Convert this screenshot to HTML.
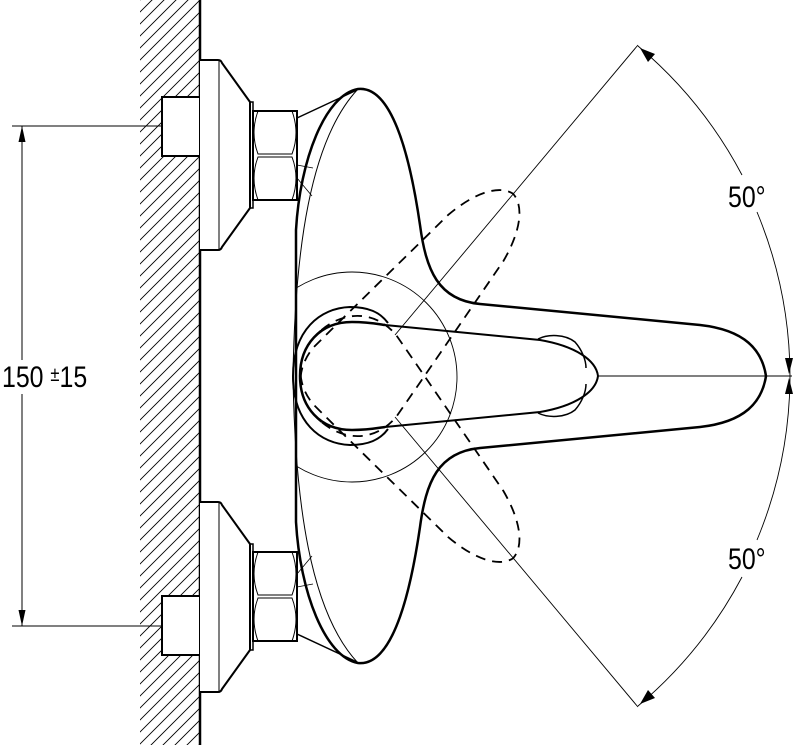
<!DOCTYPE html>
<html><head><meta charset="utf-8"><style>
html,body{margin:0;padding:0;background:#fff;width:799px;height:749px;overflow:hidden;}
svg{display:block;}
text{font-family:"Liberation Sans",Arial,sans-serif;fill:#000;}
</style></head><body>
<svg width="799" height="749" viewBox="0 0 799 749" xmlns="http://www.w3.org/2000/svg">
<defs>
<clipPath id="wc"><rect x="140" y="0" width="60" height="745"/></clipPath>
<clipPath id="cc"><rect x="297" y="0" width="500" height="749"/></clipPath>
<g id="half">
  <rect x="162" y="97" width="38" height="59" fill="#fff" stroke="#000" stroke-width="2"/>
  <path d="M200,60 L218,60 Q221,60 222,63 L250,102 L250,208 L222,247 Q221,250 218,250 L200,250" fill="#fff" stroke="#000" stroke-width="2"/>
  <line x1="219" y1="61" x2="219" y2="249" stroke="#000" stroke-width="1"/>
  <rect x="250" y="102" width="3" height="106" fill="none" stroke="#000" stroke-width="1.5"/>
  <rect x="253" y="111" width="44" height="89" fill="#fff" stroke="#000" stroke-width="2"/>
  <path d="M258,111 Q250,133 258,154 L292,154 Q300,133 292,111" fill="none" stroke="#000" stroke-width="1"/>
  <path d="M258,200 Q250,178 258,157 L292,157 Q300,178 292,200" fill="none" stroke="#000" stroke-width="1"/>
  <line x1="297" y1="118" x2="357" y2="90" stroke="#000" stroke-width="1.5"/>
  <path d="M297,165 L313,168 M297,178 L312,196" stroke="#000" stroke-width="0.8" fill="none"/>
  <path d="M296,376 L296,230 C300,160 325,95 358,89 C395,85 412,170 420,225 C426,270 438,300 480,304 L700,325 C745,330 762,350 766,376" fill="none" stroke="#000" stroke-width="2.5"/>
  <path d="M293,376 C295,250 310,140 358,89" fill="none" stroke="#000" stroke-width="1"/>
  <path d="M293,376 C293,330 320,308 350,307 C368,307 380,312 388,323" fill="none" stroke="#000" stroke-width="2"/>
  <path d="M300,376 C300,345 320,322 352,322 C368,322 378,324 385,325" fill="none" stroke="#000" stroke-width="2.5"/>
  <path d="M385,325 L540,340 C575,346 596,360 598,376" fill="none" stroke="#000" stroke-width="2"/>
  <path d="M538,339 C548,334 565,334 575,342 C582,350 586,360 586,368" fill="none" stroke="#000" stroke-width="1.5"/>
</g>
<g id="lever">
  <path d="M300,376 C300,345 320,322 352,322 L385,325 L540,340 C575,346 596,360 598,376 C596,392 575,406 540,412 L385,427 L352,430 C320,430 300,407 300,376 Z" fill="none" stroke="#000" stroke-width="1.8" stroke-dasharray="10,7"/>
</g>
</defs>
<g clip-path="url(#wc)" stroke="#000" stroke-width="0.9">
<path d="M130,10 L210,-70 M130,22 L210,-58 M130,34 L210,-46 M130,46 L210,-34 M130,58 L210,-22 M130,70 L210,-10 M130,82 L210,2 M130,94 L210,14 M130,106 L210,26 M130,118 L210,38 M130,130 L210,50 M130,142 L210,62 M130,154 L210,74 M130,166 L210,86 M130,178 L210,98 M130,190 L210,110 M130,202 L210,122 M130,214 L210,134 M130,226 L210,146 M130,238 L210,158 M130,250 L210,170 M130,262 L210,182 M130,274 L210,194 M130,286 L210,206 M130,298 L210,218 M130,310 L210,230 M130,322 L210,242 M130,334 L210,254 M130,346 L210,266 M130,358 L210,278 M130,370 L210,290 M130,382 L210,302 M130,394 L210,314 M130,406 L210,326 M130,418 L210,338 M130,430 L210,350 M130,442 L210,362 M130,454 L210,374 M130,466 L210,386 M130,478 L210,398 M130,490 L210,410 M130,502 L210,422 M130,514 L210,434 M130,526 L210,446 M130,538 L210,458 M130,550 L210,470 M130,562 L210,482 M130,574 L210,494 M130,586 L210,506 M130,598 L210,518 M130,610 L210,530 M130,622 L210,542 M130,634 L210,554 M130,646 L210,566 M130,658 L210,578 M130,670 L210,590 M130,682 L210,602 M130,694 L210,614 M130,706 L210,626 M130,718 L210,638 M130,730 L210,650 M130,742 L210,662 M130,754 L210,674 M130,766 L210,686 M130,778 L210,698 M130,790 L210,710 M130,802 L210,722 M130,814 L210,734 M130,826 L210,746"/>
</g>
<line x1="200" y1="0" x2="200" y2="745" stroke="#000" stroke-width="2.5"/>
<g stroke="#000" stroke-width="1">
<line x1="12" y1="126" x2="162" y2="126"/>
<line x1="12" y1="626" x2="162" y2="626"/>
<line x1="22" y1="126" x2="22" y2="360"/>
<line x1="22" y1="394" x2="22" y2="626"/>
</g>
<path d="M22,126 L18.5,142 L25.5,142 Z M22,626 L18.5,610 L25.5,610 Z" fill="#000"/>
<text transform="translate(2,387) scale(0.83,1)" font-size="30">150 <tspan font-size="20" dy="-6">±</tspan><tspan dy="6">15</tspan></text>
<circle cx="352" cy="377" r="105" fill="none" stroke="#000" stroke-width="0.9" clip-path="url(#cc)"/>
<use href="#lever" transform="rotate(-50 360 376)"/>
<use href="#lever" transform="rotate(50 360 376)"/>
<g stroke="#000" stroke-width="0.9">
<line x1="395" y1="335" x2="638" y2="45"/>
<line x1="395" y1="417" x2="638" y2="707"/>
<line x1="598" y1="376" x2="792" y2="376"/>
</g>
<use href="#half"/>
<use href="#half" transform="matrix(1 0 0 -1 0 752)"/>
<g fill="none" stroke="#000" stroke-width="0.9">
<path d="M638,46 A431,431 0 0 1 742,175"/>
<path d="M757,212 A431,431 0 0 1 790,376"/>
<path d="M638,706 A431,431 0 0 0 742,577"/>
<path d="M757,540 A431,431 0 0 0 790,376"/>
</g>
<path d="M640,48 L655,54 L648,62 Z M789,374 L785,358 L793,358 Z M640,704 L655,698 L648,690 Z M789,378 L785,394 L793,394 Z" fill="#000"/>
<text transform="translate(728,207) scale(0.83,1)" font-size="30">50°</text>
<text transform="translate(728,569) scale(0.83,1)" font-size="30">50°</text>
</svg>
</body></html>
